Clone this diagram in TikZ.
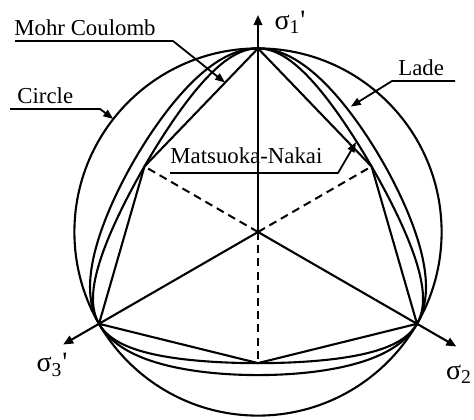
\documentclass[tikz,border=0pt]{standalone}
\usepackage{fontspec}
\setmainfont{Liberation Serif}
\usetikzlibrary{arrows.meta,calc}
\begin{document}
\begin{tikzpicture}[x=0.5pt,y=0.5pt,
  declare function={
    tMN(\u)=0.494872+0.098974*(1-cos(\u));
    cMN(\t)=5.19615*(26*\t*\t-8)/(70*\t*\t*\t);
    thMN(\u)=acos(max(-1,min(1,cMN(tMN(\u)))))/3;
    tLD(\u)=0.53986+0.07648*(1-cos(\u));
    cLD(\t)=(\t*\t-0.352)/(0.3849*\t*\t*\t);
    thLD(\u)=acos(max(-1,min(1,cLD(tLD(\u)))))/3;
  },
  curve/.style={line width=1.05pt, line join=round, line cap=round},
  axis/.style={line width=1.05pt, -{Triangle[length=5pt,width=4.2pt]}},
  leader/.style={line width=0.9pt, line join=round, -{Triangle[length=5pt,width=3.8pt]}},
  dashline/.style={line width=1pt, dash pattern=on 4pt off 2.6pt},
  lbl/.style={inner sep=0pt, anchor=base west, font=\fontsize{11.4}{13}\selectfont},
  sig/.style={inner sep=0pt, font=\fontsize{14}{16}\selectfont}
]
\useasboundingbox (0,0) rectangle (474,419);
\coordinate (O) at (258,187);
% compression vertices
\coordinate (c1) at ($(O)+(90:183.6)$);
\coordinate (c2) at ($(O)+(210:183.6)$);
\coordinate (c3) at ($(O)+(330:183.6)$);
% extension vertices (Mohr-Coulomb)
\coordinate (e1) at ($(O)+(30:131.1)$);
\coordinate (e2) at ($(O)+(150:131.1)$);
\coordinate (e3) at ($(O)+(270:131.1)$);

% circle
\draw[curve] (O) circle[radius=183.6];
% Mohr-Coulomb hexagon
\draw[curve] (c1) -- (e2) -- (c2) -- (e3) -- (c3) -- (e1) -- cycle;
% Matsuoka-Nakai and Lade
\foreach \a in {90,210,330}{
  \foreach \s in {1,-1}{
    \draw[curve,shift={(O)}] plot[variable=\u,domain=0:180,samples=61]
      ({\a+\s*thMN(\u)}:{265*tMN(\u)});
    \draw[curve,shift={(O)}] plot[variable=\u,domain=0:180,samples=61]
      ({\a+\s*thLD(\u)}:{265*tLD(\u)});
  }
}
% dashed spokes
\draw[dashline] (O) -- (e1);
\draw[dashline] (O) -- (e2);
\draw[dashline] (O) -- (e3);
% axes
\coordinate (a1) at ($(O)+(90:217)$);
\coordinate (a3) at ($(O)+(210:225)$);
\coordinate (a2) at ($(O)+(330:229)$);
\draw[axis] (O) -- (a1);
\draw[axis] (O) -- (a3);
\draw[axis] (O) -- (a2);
\node[sig] (s1) at (290,397) {σ\textsubscript{1}\textquotesingle};
\node[sig] (s3) at (52,54) {σ\textsubscript{3}\textquotesingle};
\node[sig] (s2) at (459,45) {σ\textsubscript{2}};

% labels and leaders
\node[lbl] (mc) at (14,384) {Mohr Coulomb};
\coordinate (mcA) at (15,378);
\coordinate (mcB) at (173,378);
\coordinate (mcT) at ($(c1)!0.29!(e2)$);
\draw[leader] (mcA) -- (mcB) -- (mcT);

\node[lbl] (ci) at (17,316) {Circle};
\coordinate (ciA) at (10,310);
\coordinate (ciB) at (100,310);
\coordinate (ciT) at ($(O)+(142:183.6)$);
\draw[leader] (ciA) -- (ciB) -- (ciT);

\node[lbl] (la) at (398,344) {Lade};
\coordinate (laA) at (455,338);
\coordinate (laB) at (392,338);
\coordinate (laT) at ($(O)+(53.5:156)$);
\draw[leader] (laA) -- (laB) -- (laT);

\node[lbl] (mn) at (170,256) {Matsuoka-Nakai};
\coordinate (mnA) at (170,246);
\coordinate (mnB) at (338,246);
\coordinate (mnT) at ($(O)+(42.5:133)$);
\draw[leader] (mnA) -- (mnB) -- (mnT);
\end{tikzpicture}
\end{document}
